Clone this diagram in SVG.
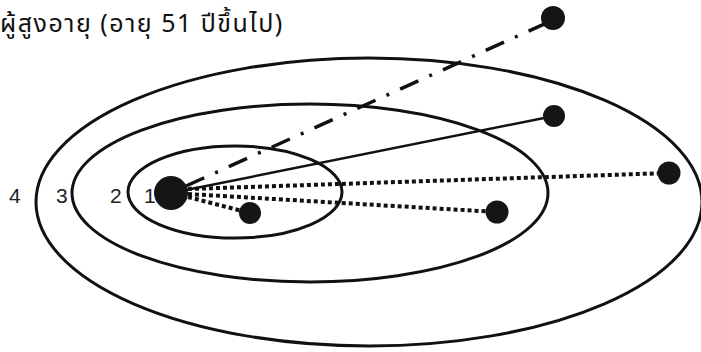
<svg xmlns="http://www.w3.org/2000/svg" width="701" height="352" viewBox="0 0 701 352">
<style>
.ring{fill:none;stroke:#111;stroke-width:3}
.dot{fill:#151515}
.lbl{font-family:"Liberation Sans",Arial,sans-serif;font-size:21px;fill:#222}
.title{font-family:"Noto Sans Thai","Noto Sans","DejaVu Sans",sans-serif;font-size:25px;font-weight:normal;letter-spacing:1.5px;fill:#111}
.solid{stroke:#111;stroke-width:2.5;fill:none}
.dotted{stroke:#111;stroke-width:4;stroke-dasharray:4 3;fill:none}
.dashdot{stroke:#111;stroke-width:3.5;stroke-dasharray:20 12 3 12;fill:none}
</style>
<rect width="701" height="352" fill="#fff"/>
<text class="title" x="0" y="32">ผู้สูงอายุ (อายุ 51 ปีขึ้นไป)</text>
<g id="rings">
<ellipse id="ring4" class="ring" cx="369" cy="202" rx="333" ry="144"/>
<ellipse id="ring3" class="ring" cx="310" cy="193" rx="238" ry="89"/>
<ellipse id="ring2" class="ring" cx="235" cy="192" rx="107" ry="46"/>
</g>
<g id="labels">
<text class="lbl" x="9" y="203">4</text>
<text class="lbl" x="56" y="203">3</text>
<text class="lbl" x="110" y="203">2</text>
<text class="lbl" x="144" y="203">1</text>
</g>
<g id="connectors">
<line class="dashdot" x1="186" y1="186" x2="553" y2="20"/>
<line class="solid" x1="186" y1="190" x2="554" y2="116"/>
<line class="dotted" x1="188" y1="189" x2="669" y2="173"/>
<line class="dotted" x1="188" y1="194" x2="497" y2="212"/>
<line class="dotted" x1="188" y1="197" x2="250" y2="213"/>
</g>
<g id="center"><circle class="dot" cx="171" cy="193" r="17"/></g>
<g id="n1"><circle class="dot" cx="250" cy="213" r="11"/></g>
<g id="n2"><circle class="dot" cx="497" cy="212" r="11.5"/></g>
<g id="n3"><circle class="dot" cx="554" cy="116" r="11"/></g>
<g id="n4"><circle class="dot" cx="669" cy="173" r="11.5"/></g>
<g id="n5"><circle class="dot" cx="553" cy="18" r="12"/></g>
</svg>
